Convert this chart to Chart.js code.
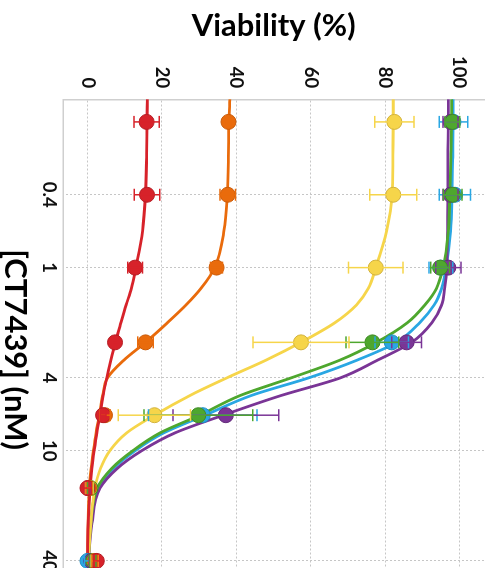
<!DOCTYPE html>
<html>
<head>
<meta charset="utf-8">
<script src="https://cdn.jsdelivr.net/npm/chart.js@4/dist/chart.umd.min.js"></script>
<style>
  html, body { margin: 0; padding: 0; background: #fff; overflow: hidden; width: 486px; height: 568px; }
  /* The dose-response chart is laid out landscape and turned a quarter turn clockwise */
  #wrap { position: absolute; left: 0; top: 0; width: 610px; height: 496px;
          transform-origin: 0 0; transform: translate(486px, 0) rotate(90deg); }
  canvas { display: block; }
</style>
</head>
<body>
<div id="wrap"><canvas id="c" width="610" height="496"></canvas></div>
<script>
// Doses (nM) of CT7439
const doses = [0.16, 0.4, 1, 2.56, 6.4, 16, 40];

// Mean viability (%) and SD per cell line
const redMean    = [15.9, 16.0, 12.8, 7.4, 4.2, 0.0, 2.5];
const redSd      = [3.4, 3.4, 2.0, 0.6, 0.8, 1.0, 0.8];
const orangeMean = [37.9, 37.7, 34.7, 15.6, 4.7, 0.4, 2.0];
const orangeSd   = [0.6, 2.1, 1.6, 2.1, 1.4, 0.8, 0.8];
const yellowMean = [82.5, 82.2, 77.5, 57.4, 18.0, 0.5, 2.0];
const yellowSd   = [5.3, 6.3, 7.3, 12.9, 9.7, 1.0, 1.0];
const greenMean  = [98.1, 98.2, 94.8, 76.6, 29.8, 0.8, 1.5];
const greenSd    = [2.0, 2.5, 2.5, 7.1, 14.6, 0.8, 0.8];
const blueMean   = [98.4, 98.8, 95.0, 81.8, 31.0, 0.3, 0.0];
const blueSd     = [3.8, 4.2, 3.2, 4.5, 14.6, 0.8, 0.8];
const purpleMean = [97.6, 97.6, 97.0, 85.8, 37.2, 0.3, 1.0];
const purpleSd   = [2.0, 2.0, 3.4, 4.0, 14.2, 0.5, 0.5];

// Fitted dose-response curves, sampled along the dose axis
const fitDoses  = [0.12, 0.16, 0.25, 0.4, 0.63, 1, 1.3, 1.6, 2, 2.56, 3.2, 4, 5, 6.4, 8, 10, 12.5, 16, 25, 45];
const redFit    = [16.1, 16.0, 15.9, 15.6, 14.8, 13.0, 11.8, 10.4, 9.0, 7.5, 6.3, 5.2, 4.2, 3.4, 2.5, 1.8, 1.2, 0.7, 0.2, 0.0];
const orangeFit = [38.3, 38.0, 37.9, 37.6, 36.7, 34.2, 30.5, 26.5, 21.5, 15.6, 9.8, 5.4, 4.1, 3.2, 2.3, 1.6, 1.0, 0.5, 0.15, 0.0];
const yellowFit = [82.2, 82.2, 82.1, 81.9, 80.4, 77.5, 75.5, 72.3, 66.5, 57.4, 48.0, 37.5, 27.5, 18.0, 10.5, 6.0, 3.5, 2.0, 0.9, 0.1];
const greenFit  = [97.9, 97.9, 97.7, 97.4, 97.0, 95.6, 93.8, 90.7, 86.0, 77.7, 67.9, 54.8, 41.0, 30.2, 19.5, 12.2, 6.5, 2.6, 0.9, 0.1];
const blueFit   = [98.3, 98.3, 98.2, 98.0, 97.6, 96.4, 95.2, 93.2, 89.3, 83.1, 72.5, 59.5, 44.0, 31.6, 20.5, 12.8, 7.0, 2.8, 1.0, 0.1];
const purpleFit = [97.0, 97.0, 96.9, 96.9, 96.8, 96.6, 96.0, 95.2, 92.6, 87.2, 78.0, 68.0, 52.0, 36.5, 23.5, 14.6, 8.0, 3.4, 1.2, 0.1];

// Axis ticks
const viabilityTicks = [0, 20, 40, 60, 80, 100];
const doseTicks      = [0.4, 1, 4, 10, 40];
const doseTickLabels = ['0.4', '1', '4', '10', '40'];

const series = [
  { mean: redMean,    sd: redSd,    fit: redFit,    color: '#d7222a', edge: '#b51d24', z: 1 },
  { mean: orangeMean, sd: orangeSd, fit: orangeFit, color: '#e96b0c', edge: '#c95a08', z: 2 },
  { mean: yellowMean, sd: yellowSd, fit: yellowFit, color: '#f6d54a', edge: '#d2b23c', z: 3 },
  { mean: greenMean,  sd: greenSd,  fit: greenFit,  color: '#4ea72e', edge: '#3f8a25', z: 4 },
  { mean: purpleMean, sd: purpleSd, fit: purpleFit, color: '#7a3596', edge: '#622a7a', z: 5 },
  { mean: blueMean,   sd: blueSd,   fit: blueFit,   color: '#2aa7e3', edge: '#1f8cc0', z: 6 }
];

const datasets = [];
series.forEach(s => {
  datasets.push({
    data: fitDoses.map((d, i) => ({ x: d, y: s.fit[i] })),
    borderColor: s.color,
    borderWidth: 2.8,
    pointRadius: 0,
    cubicInterpolationMode: 'monotone',
    fill: false,
    order: 20 + s.z
  });
});
series.forEach(s => {
  datasets.push({
    data: doses.map((d, i) => ({ x: d, y: s.mean[i] })),
    errors: s.sd,
    errorColor: s.color,
    showLine: false,
    pointRadius: 7.5,
    pointBackgroundColor: s.color,
    pointBorderColor: s.edge,
    pointBorderWidth: 1,
    order: s.z
  });
});

// Whiskers for mean ± SD, placed through the chart scales
const errorBars = {
  id: 'errorBars',
  afterDatasetsDraw(chart) {
    const { ctx, scales: { x, y } } = chart;
    const cap = 6;
    ctx.save();
    ctx.beginPath();
    ctx.rect(chart.chartArea.left, chart.chartArea.top,
             chart.chartArea.right - chart.chartArea.left,
             chart.chartArea.bottom - chart.chartArea.top);
    ctx.clip();
    ctx.lineWidth = 1.5;
    [...chart.data.datasets].reverse().forEach(ds => {
      if (!ds.errors) return;
      ctx.strokeStyle = ds.errorColor;
      ds.data.forEach((pt, j) => {
        const e = ds.errors[j];
        if (!e) return;
        const px = x.getPixelForValue(pt.x);
        const lo = y.getPixelForValue(pt.y - e);
        const hi = y.getPixelForValue(pt.y + e);
        ctx.beginPath();
        ctx.moveTo(px, lo); ctx.lineTo(px, hi);
        ctx.moveTo(px - cap, lo); ctx.lineTo(px + cap, lo);
        ctx.moveTo(px - cap, hi); ctx.lineTo(px + cap, hi);
        ctx.stroke();
      });
    });
    ctx.restore();
  }
};

const FAMILY = "Lato, 'Liberation Sans', Arial, sans-serif";
const tickFont = { family: FAMILY, size: 18.5, weight: 'bold' };

new Chart(document.getElementById('c'), {
  type: 'line',
  data: { datasets },
  plugins: [errorBars],
  options: {
    responsive: false,
    animation: false,
    devicePixelRatio: 1,
    layout: { autoPadding: false, padding: { left: 0, top: 2, right: 10, bottom: 0 } },
    plugins: { legend: { display: false }, tooltip: { enabled: false } },
    scales: {
      x: {
        type: 'logarithmic',
        position: 'bottom',
        min: 0.1204,
        max: 65.4,
        afterBuildTicks: s => { s.ticks = doseTicks.map(v => ({ value: v })); },
        afterFit: s => { s.height = 73.3; s.paddingLeft = 0; s.paddingRight = 0; },
        ticks: {
          autoSkip: false, maxRotation: 0, minRotation: 0, padding: 3.2,
          color: '#111', font: tickFont,
          callback: (v) => doseTickLabels[doseTicks.indexOf(v)] ?? ''
        },
        grid: { color: '#c6c6c6', lineWidth: 1, drawTicks: false },
        border: { display: true, color: '#cfcfcf', width: 1.5, dash: [2, 2] },
        title: {
          display: true, text: '[CT7439] (nM)', color: '#000',
          font: { family: FAMILY, size: 31, weight: 'bold' },
          padding: { top: 0, bottom: 6.6 }
        }
      },
      y: {
        type: 'linear',
        position: 'left',
        min: -6.5,
        max: 106.6,
        afterBuildTicks: s => { s.ticks = viabilityTicks.map(v => ({ value: v })); },
        afterFit: s => { s.width = 99.3; s.paddingTop = 0; s.paddingBottom = 0; },
        ticks: { autoSkip: false, padding: 11, color: '#111', font: tickFont },
        grid: { color: '#c6c6c6', lineWidth: 1, drawTicks: false },
        border: { display: true, color: '#cfcfcf', width: 1.5, dash: [2, 2] },
        title: {
          display: true, text: 'Viability (%)', color: '#000',
          font: { family: FAMILY, size: 31, weight: 'bold' },
          padding: { top: 7.4, bottom: 0 }
        }
      }
    }
  }
});
</script>
</body>
</html>
